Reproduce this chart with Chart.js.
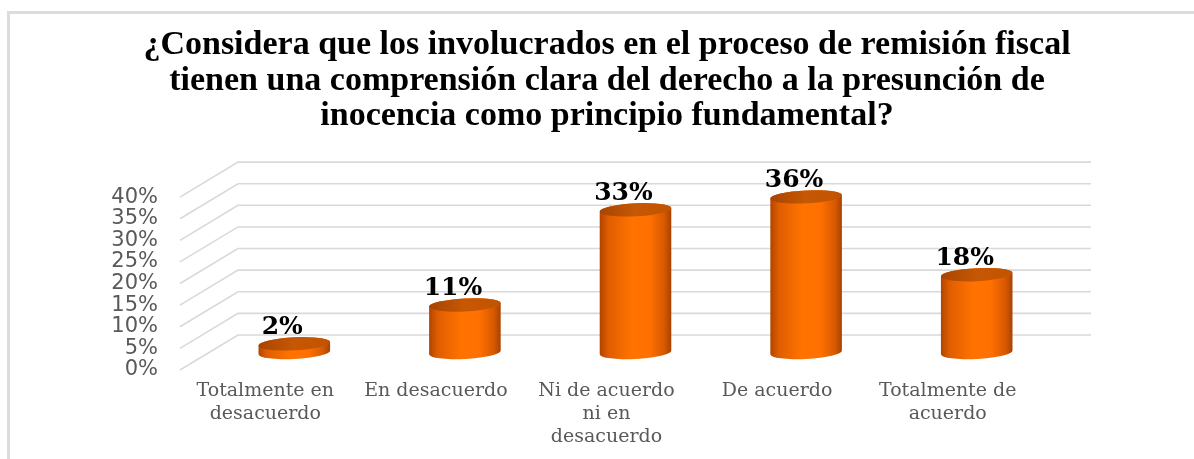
<!DOCTYPE html>
<html>
<head>
<meta charset="utf-8">
<script src="https://cdn.jsdelivr.net/npm/chart.js@4.4.1/dist/chart.umd.min.js"></script>
<style>
  html, body { margin: 0; padding: 0; background: #fff; }
  #wrap { position: relative; width: 1194px; height: 459px; overflow: hidden; }
  #frame { position: absolute; left: 7px; top: 11px; width: 1300px; height: 600px; border-top: 3px solid #dcdcdc; border-left: 3px solid #dcdcdc; }
  canvas { position: absolute; left: 0; top: 0; }
</style>
</head>
<body>
<div id="wrap">
  <div id="frame"></div>
  <canvas id="chart" width="1194" height="459"></canvas>
</div>
<script>
const titleLines = [
  '¿Considera que los involucrados en el proceso de remisión fiscal',
  'tienen una comprensión clara del derecho a la presunción de',
  'inocencia como principio fundamental?'
]
const categories = [
  ['Totalmente en', 'desacuerdo'],
  'En desacuerdo',
  ['Ni de acuerdo', 'ni en', 'desacuerdo'],
  'De acuerdo',
  ['Totalmente de', 'acuerdo']
]
const values = [2, 11, 33, 36, 18]
const yTicks = [0, 5, 10, 15, 20, 25, 30, 35, 40]

// fake 3d offset of the back wall
const depth = { x: 58, y: -35 }

const wallPlugin = {
  id: 'wall',
  beforeDatasetsDraw(chart) {
    const { ctx, chartArea, scales: { y } } = chart
    ctx.save()
    ctx.strokeStyle = '#d9d9d9'
    ctx.lineWidth = 1.6
    y.ticks.forEach(t => {
      const py = y.getPixelForValue(t.value)
      ctx.beginPath()
      ctx.moveTo(chartArea.left, py)
      ctx.lineTo(chartArea.left + depth.x, py + depth.y)
      ctx.lineTo(chartArea.right + depth.x, py + depth.y)
      ctx.stroke()
    })
    ctx.restore()
  }
}

const cylinderPlugin = {
  id: 'cylinders',
  afterDatasetsDraw(chart) {
    const { ctx, scales: { x } } = chart
    const meta = chart.getDatasetMeta(0)
    const rx = x.width / categories.length * 0.21
    const ry = 6.5
    const tilt = -0.05
    ctx.save()
    meta.data.forEach((bar, i) => {
      const cx = bar.x + depth.x / 2
      const top = bar.y + depth.y / 2
      const bottom = bar.base + depth.y / 2

      const side = ctx.createLinearGradient(cx - rx, 0, cx + rx, 0)
      side.addColorStop(0, '#b04500')
      side.addColorStop(0.12, '#e05d00')
      side.addColorStop(0.45, '#ff7300')
      side.addColorStop(0.7, '#ff7000')
      side.addColorStop(0.9, '#d85900')
      side.addColorStop(1, '#a84200')
      ctx.beginPath()
      ctx.ellipse(cx, bottom, rx, ry, tilt, 0, Math.PI)
      ctx.ellipse(cx, top, rx, ry, tilt, Math.PI, Math.PI * 2)
      ctx.closePath()
      ctx.fillStyle = side
      ctx.fill()

      const cap = ctx.createLinearGradient(cx - rx, 0, cx + rx, 0)
      cap.addColorStop(0, '#a84400')
      cap.addColorStop(0.5, '#c65805')
      cap.addColorStop(1, '#c25400')
      ctx.beginPath()
      ctx.ellipse(cx, top, rx, ry, tilt, 0, Math.PI * 2)
      ctx.fillStyle = cap
      ctx.fill()

      ctx.fillStyle = '#000'
      ctx.font = 'bold 25px "DejaVu Serif"'
      ctx.textAlign = 'center'
      ctx.textBaseline = 'alphabetic'
      ctx.fillText(values[i] + '%', bar.x + 17, top - ry - 3)
    })
    ctx.restore()
  }
}

const ctx = document.getElementById('chart').getContext('2d')
new Chart(ctx, {
  type: 'bar',
  data: {
    labels: categories,
    datasets: [{ data: values, backgroundColor: 'rgba(0,0,0,0)', borderWidth: 0 }]
  },
  options: {
    responsive: false,
    animation: false,
    layout: { padding: { left: 20, right: 0, top: 0, bottom: 0 } },
    plugins: {
      legend: { display: false },
      tooltip: { enabled: false },
      title: {
        display: true,
        text: titleLines,
        color: '#000',
        font: { family: 'Liberation Serif', size: 34, weight: 'bold', lineHeight: 1.04 },
        padding: { top: 28, bottom: 63 }
      }
    },
    scales: {
      x: {
        grid: { display: false, drawTicks: false },
        border: { display: false },
        ticks: { color: '#595959', font: { family: 'DejaVu Serif', size: 19 }, padding: 10, maxRotation: 0, autoSkip: false },
        afterFit(scale) { scale.height = 89 }
      },
      y: {
        min: 0,
        max: 40,
        grid: { display: false, drawTicks: false },
        border: { display: false },
        afterBuildTicks(scale) { scale.ticks = yTicks.map(v => ({ value: v })) },
        ticks: { color: '#595959', font: { family: 'DejaVu Sans', size: 21 }, padding: 22, autoSkip: false, callback: v => v + '%' },
        afterFit(scale) { scale.width = 160 }
      },
      y2: {
        position: 'right',
        grid: { display: false, drawTicks: false },
        border: { display: false },
        ticks: { display: false },
        afterFit(scale) { scale.width = 161 }
      }
    }
  },
  plugins: [wallPlugin, cylinderPlugin]
})
</script>
</body>
</html>
